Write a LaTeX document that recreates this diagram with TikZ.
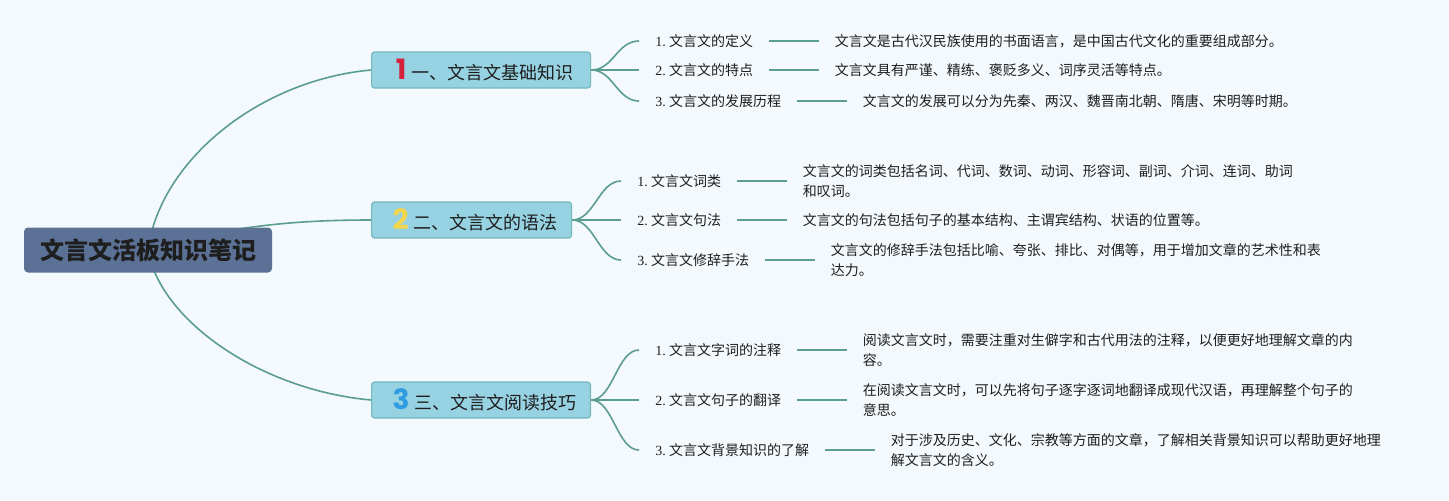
\documentclass[tikz,border=0pt]{standalone}
\usepackage{fontspec}
\setmainfont{Liberation Serif}
\newfontfamily\cjk{Noto Sans CJK SC}
\newfontfamily\numfont{Poppins}
\usetikzlibrary{positioning}
\definecolor{bgcol}{HTML}{F4F9FD}
\definecolor{linecol}{HTML}{5B9E8D}
\definecolor{boxfill}{HTML}{97D2E3}
\definecolor{boxline}{HTML}{74B7BC}
\definecolor{rootfill}{HTML}{5B7195}
\definecolor{numa}{HTML}{D4213D}
\definecolor{numb}{HTML}{F3D54E}
\definecolor{numc}{HTML}{2E9CE0}
\definecolor{txt}{HTML}{1E1E1E}
\pgfdeclarelayer{bg}
\pgfdeclarelayer{edges}
\pgfsetlayers{bg,edges,main}
\def\numlab#1{{\rmfamily #1.}~}
\def\bignum#1#2{\hspace{3.5pt}{\numfont\bfseries\fontsize{14}{14}\selectfont\color{#1}#2}\hspace{2.5pt}}
\tikzset{
  rootbox/.style={fill=rootfill, rounded corners=2pt, minimum height=22.5pt, inner xsep=8pt,
    text=txt, font=\cjk\bfseries\fontsize{12}{14}\selectfont},
  branchbox/.style={fill=boxfill, draw=boxline, line width=0.6pt, rounded corners=1.5pt,
    minimum height=18pt, inner xsep=7pt, text=txt, font=\cjk\fontsize{9}{11}\selectfont},
  itemtxt/.style={anchor=west, inner xsep=8pt, inner ysep=1pt, text=txt, font=\cjk\fontsize{7}{9.8}\selectfont},
  desctxt/.style={inner xsep=7.5pt, inner ysep=1pt, align=left, text=txt, font=\cjk\fontsize{7}{9.8}\selectfont},
  twig/.style={draw=linecol, line width=0.8pt},
  stem/.style={draw=linecol, line width=1pt}
}
\begin{document}
\begin{tikzpicture}[x=0.5pt, y=-0.5pt]
		%%%%% START %%%%%
		
		\begin{pgfonlayer}{bg}
		\fill[bgcol] (0, 0) rectangle (1449, 500);
		\end{pgfonlayer}
		\useasboundingbox (0, 0) rectangle (1449, 500);
		
		\node[rootbox] (root) at (148, 250) {文言文活板知识笔记};
		
		\node[branchbox, anchor=west, minimum width=109.5pt] (basic) at (371, 70) {\bignum{numa}{1}一、文言文基础知识};
		\node[branchbox, anchor=west] (gram) at (371, 220) {\bignum{numb}{2}二、文言文的语法};
		\node[branchbox, anchor=west] (read) at (371, 400) {\bignum{numc}{3}三、文言文阅读技巧};
		
		\node[itemtxt] (def) at (639, 41) {\numlab{1}文言文的定义};
		\node[itemtxt] (feat) at (639, 70) {\numlab{2}文言文的特点};
		\node[itemtxt] (hist) at (639, 101) {\numlab{3}文言文的发展历程};
		\node[desctxt, right=25pt of def] (defd) {文言文是古代汉民族使用的书面语言，是中国古代文化的重要组成部分。};
		\node[desctxt, right=25pt of feat] (featd) {文言文具有严谨、精练、褒贬多义、词序灵活等特点。};
		\node[desctxt, right=25pt of hist] (histd) {文言文的发展可以分为先秦、两汉、魏晋南北朝、隋唐、宋明等时期。};
		
		\node[itemtxt] (word) at (621, 181) {\numlab{1}文言文词类};
		\node[itemtxt] (synt) at (621, 220) {\numlab{2}文言文句法};
		\node[itemtxt] (rhet) at (621, 260) {\numlab{3}文言文修辞手法};
		\node[desctxt, right=25pt of word] (wordd) {文言文的词类包括名词、代词、数词、动词、形容词、副词、介词、连词、助词\\和叹词。};
		\node[desctxt, right=25pt of synt] (syntd) {文言文的句法包括句子的基本结构、主谓宾结构、状语的位置等。};
		\node[desctxt, right=25pt of rhet] (rhetd) {文言文的修辞手法包括比喻、夸张、排比、对偶等，用于增加文章的艺术性和表\\达力。};
		
		\node[itemtxt] (note) at (639, 350) {\numlab{1}文言文字词的注释};
		\node[itemtxt] (tran) at (639, 400) {\numlab{2}文言文句子的翻译};
		\node[itemtxt] (back) at (639, 450) {\numlab{3}文言文背景知识的了解};
		\node[desctxt, right=25pt of note] (noted) {阅读文言文时，需要注重对生僻字和古代用法的注释，以便更好地理解文章的内\\容。};
		\node[desctxt, right=25pt of tran] (trand) {在阅读文言文时，可以先将句子逐字逐词地翻译成现代汉语，再理解整个句子的\\意思。};
		\node[desctxt, right=25pt of back] (backd) {对于涉及历史、文化、宗教等方面的文章，了解相关背景知识可以帮助更好地理\\解文言文的含义。};
		
		\begin{pgfonlayer}{edges}
		\draw[twig] (root.center) .. controls +(12, -90) and +(-111, 10) .. (basic.west);
		\draw[twig] (root.center) .. controls +(82, -25) and +(-71, 0) .. (gram.west);
		\draw[twig] (root.center) .. controls +(12, 70) and +(-111, -10) .. (read.west);
		\end{pgfonlayer}
		
		\foreach \br/\a/\b/\c in {basic/def/feat/hist, gram/word/synt/rhet, read/note/tran/back} {
			\foreach \it in {\a, \b, \c} {
				\draw[twig] (\br.east) .. controls +(22, 0) and +(-22, 0) .. (\it.west);
				\draw[stem] (\it.east) -- (\it d.west);
			}
		}
		
		%%%%% END %%%%%
	\end{tikzpicture}
\end{document}
